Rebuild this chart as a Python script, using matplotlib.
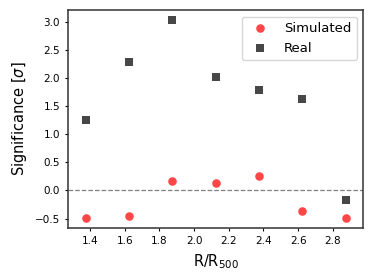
import matplotlib
matplotlib.use("Agg")
import matplotlib.pyplot as plt

# bin centres in R/R500
r = [1.375, 1.625, 1.875, 2.125, 2.375, 2.625, 2.875]
sig_sim = [-0.49, -0.45, 0.165, 0.14, 0.25, -0.36, -0.49]
sig_real = [1.245, 2.28, 3.03, 2.01, 1.78, 1.62, -0.17]

fig = plt.figure(figsize=(3.74, 2.8), dpi=100)
ax = fig.add_axes([0.183, 0.186, 0.788, 0.778])

ax.scatter(r, sig_sim, s=38, color="red", alpha=0.72, linewidths=0, label="Simulated")
ax.scatter(r, sig_real, s=32, marker="s", color="k", alpha=0.72, linewidths=0, label="Real")
ax.axhline(0, color="gray", ls="--", lw=0.9)

ax.set_xlim(1.275, 2.975)
ax.set_xlabel(r"R/R$_{500}$", fontsize=10.5)
ax.set_ylabel(r"Significance [$\sigma$]", fontsize=10.5)
ax.tick_params(labelsize=7.5, length=2.5)
ax.set_xticks([1.4, 1.6, 1.8, 2.0, 2.2, 2.4, 2.6, 2.8])
for s in ax.spines.values():
    s.set_color("#333333")
    s.set_linewidth(1.1)
ax.legend(loc="upper right", fontsize=9.5)

fig.savefig("out.png", dpi=100)
